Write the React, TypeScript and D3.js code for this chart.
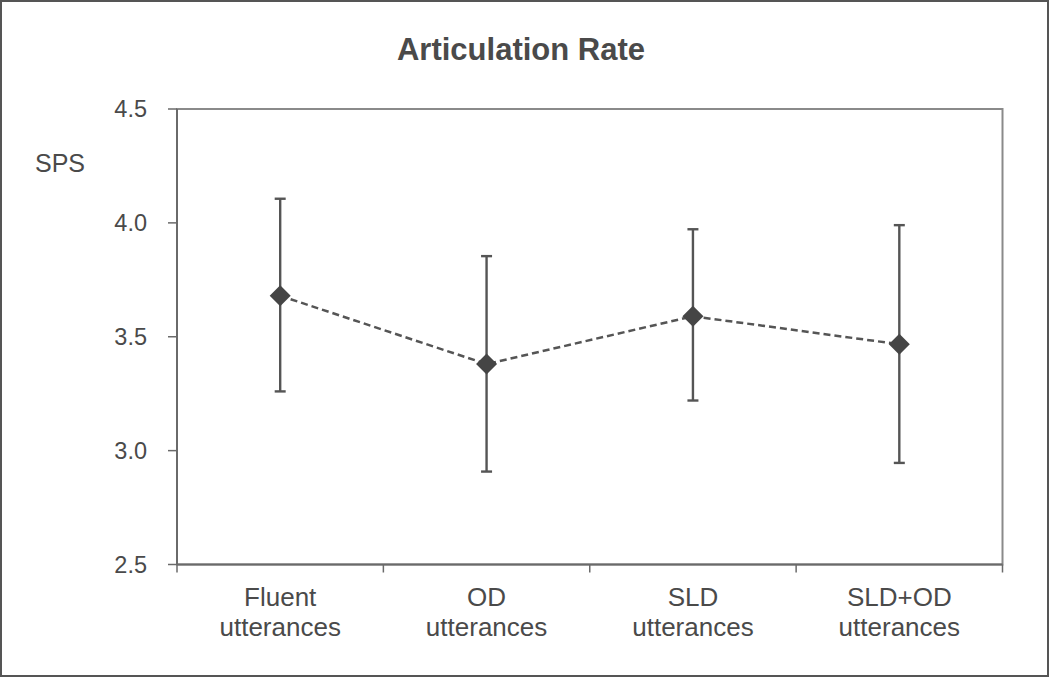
import React from "react";
import * as d3 from "d3";

const categories: string[][] = [
  ["Fluent", "utterances"],
  ["OD", "utterances"],
  ["SLD", "utterances"],
  ["SLD+OD", "utterances"],
];
const means: number[] = [3.68, 3.38, 3.59, 3.467];
const upper: number[] = [4.106, 3.854, 3.972, 3.99];
const lower: number[] = [3.26, 2.908, 3.22, 2.946];
const yTicks: number[] = [2.5, 3.0, 3.5, 4.0, 4.5];
const title = "Articulation Rate";
const yLabel = "SPS";

const W = 1050;
const H = 678;
const left = 177;
const right = 1002.5;
const top = 109;
const bottom = 564.5;

export default function App() {
  const keys = categories.map((c) => c.join(" "));
  const x = d3.scaleBand<string>().domain(keys).range([left, right]);
  const y = d3.scaleLinear().domain([2.5, 4.5]).range([bottom, top]);
  const cx = (i: number) => (x(keys[i]) as number) + x.bandwidth() / 2;
  const line = d3
    .line<number>()
    .x((_, i) => cx(i))
    .y((d) => y(d));
  const diamond = d3.symbol().type(d3.symbolSquare).size(220)();
  const textColor = "#4a4a4a";
  const font = "Liberation Sans, Arial, sans-serif";
  const bounds = x.domain().map((k) => x(k) as number).concat([right]);

  return (
    <svg
      width={W}
      height={H}
      style={{ position: "absolute", left: 0, top: 0, background: "#fff" }}
      fontFamily={font}
    >
      <rect x={1} y={1} width={W - 3} height={H - 3} fill="#fff" stroke="#555" strokeWidth={2} />
      <text x={521} y={59.5} textAnchor="middle" fontSize={31} fontWeight="bold" fill={textColor}>
        {title}
      </text>
      {/* plot frame */}
      <rect x={left} y={top} width={right - left} height={bottom - top} fill="none" stroke="#8a8a8a" strokeWidth={2} />
      {/* y axis */}
      <line x1={left} x2={left} y1={top} y2={bottom} stroke="#6a6a6a" strokeWidth={2} />
      {yTicks.map((t) => (
        <g key={t}>
          <line x1={left - 9} x2={left} y1={y(t)} y2={y(t)} stroke="#6a6a6a" strokeWidth={1.5} />
          <text x={147} y={y(t)} dy="0.36em" textAnchor="end" fontSize={23.5} fill={textColor}>
            {t.toFixed(1)}
          </text>
        </g>
      ))}
      <text x={60} y={172} textAnchor="middle" fontSize={25} fill={textColor}>
        {yLabel}
      </text>
      {/* x axis */}
      <line x1={left} x2={right} y1={bottom} y2={bottom} stroke="#6a6a6a" strokeWidth={2} />
      {bounds.map((b, i) => (
        <line key={i} x1={b} x2={b} y1={bottom} y2={bottom + 8} stroke="#6a6a6a" strokeWidth={1.5} />
      ))}
      {categories.map((c, i) => (
        <text key={i} x={cx(i)} textAnchor="middle" fontSize={26} fill={textColor}>
          {c.map((ln, j) => (
            <tspan key={j} x={cx(i)} y={606 + j * 29.5}>
              {ln}
            </tspan>
          ))}
        </text>
      ))}
      {/* error bars */}
      {means.map((_, i) => (
        <g key={i} stroke="#555" strokeWidth={2.4}>
          <line x1={cx(i)} x2={cx(i)} y1={y(upper[i])} y2={y(lower[i])} />
          <line x1={cx(i) - 5.5} x2={cx(i) + 5.5} y1={y(upper[i])} y2={y(upper[i])} />
          <line x1={cx(i) - 5.5} x2={cx(i) + 5.5} y1={y(lower[i])} y2={y(lower[i])} />
        </g>
      ))}
      <path d={line(means) as string} fill="none" stroke="#555" strokeWidth={2.5} strokeDasharray="7,4" />
      {means.map((m, i) => (
        <path key={i} d={diamond as string} transform={`translate(${cx(i)},${y(m)}) rotate(45)`} fill="#454545" />
      ))}
    </svg>
  );
}
